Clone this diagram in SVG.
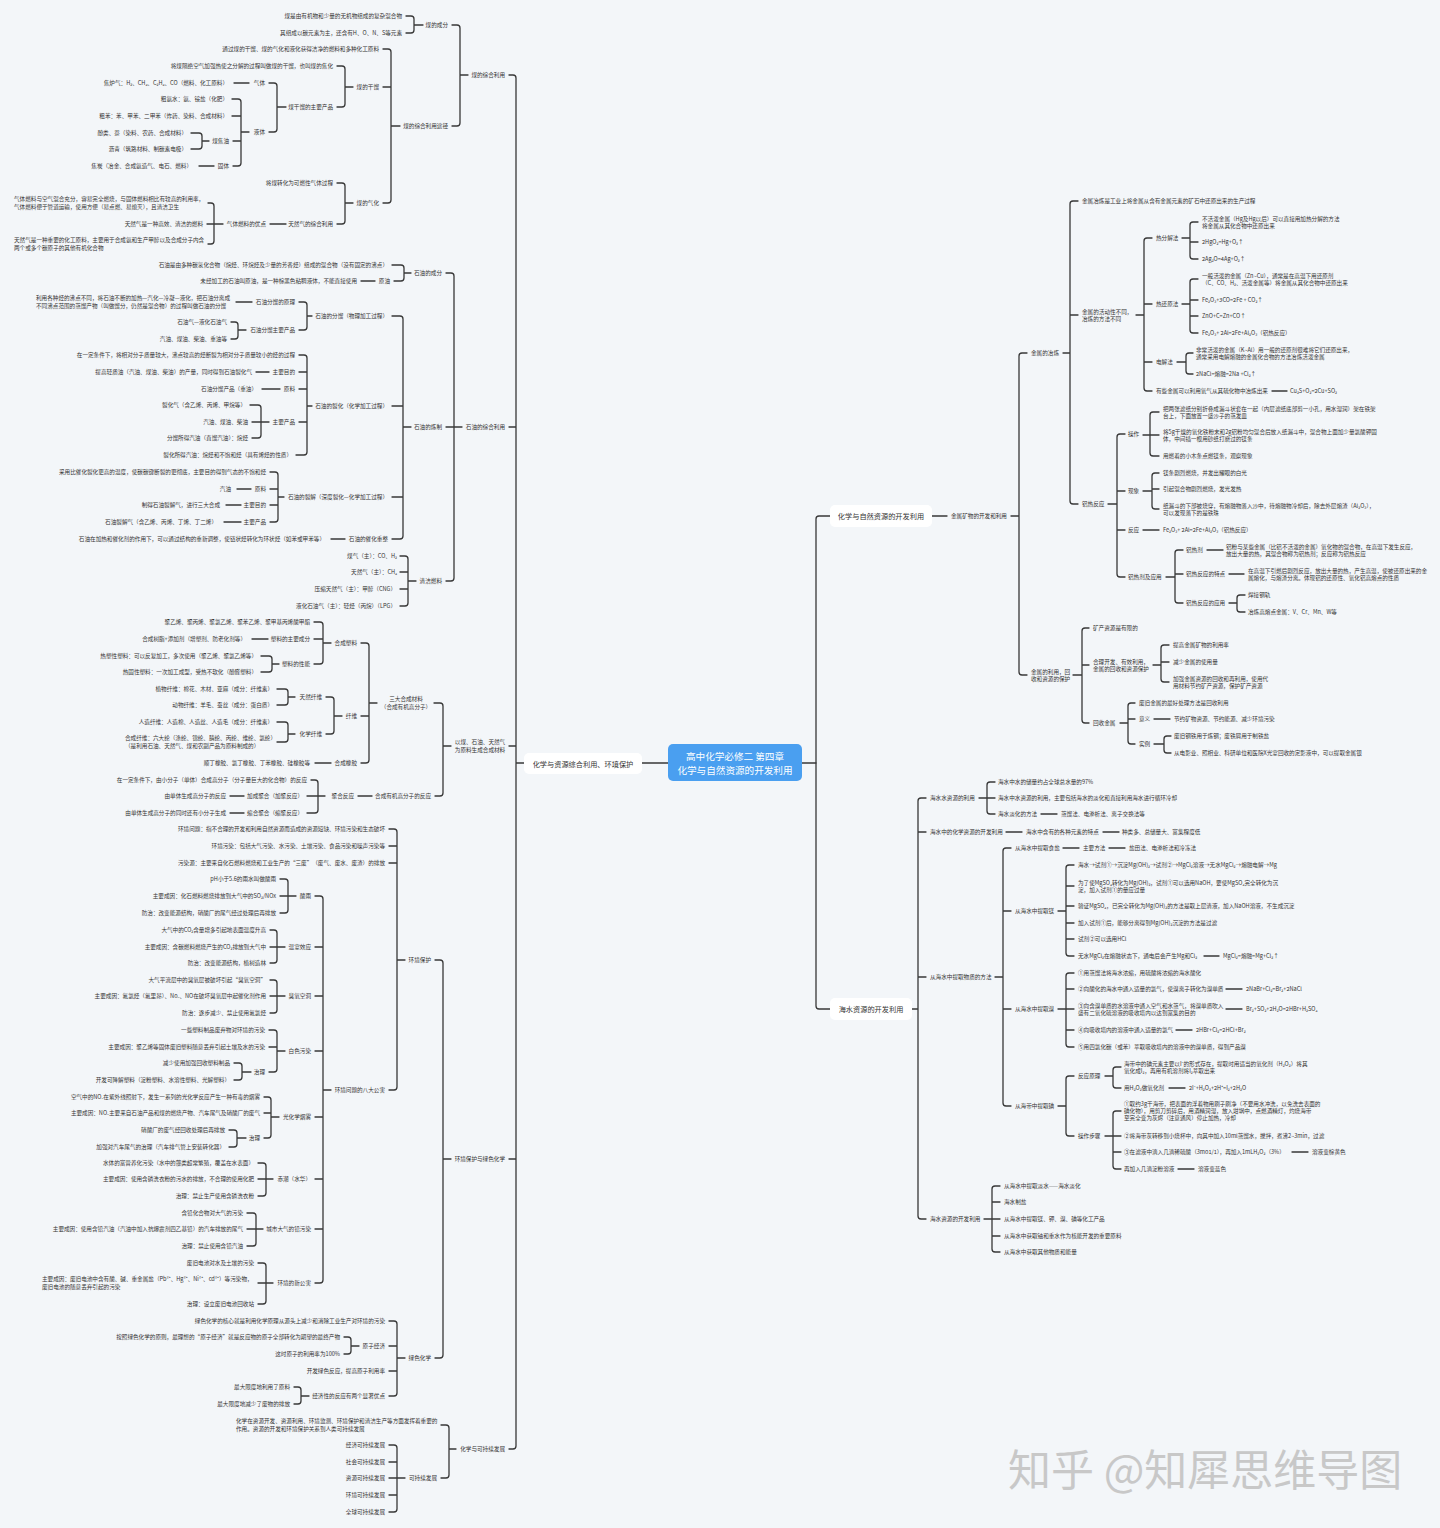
<svg xmlns="http://www.w3.org/2000/svg" width="1440" height="1528" viewBox="0 0 1440 1528">
<style>
text{font-family:"Noto Sans CJK SC","Noto Sans",sans-serif;font-size:5.6px;fill:#333;dominant-baseline:central}
.e{text-anchor:end}
.mid{text-anchor:middle}
.m{font-size:7.2px;text-anchor:middle}
.c{font-size:9.6px;fill:#fff;text-anchor:middle}
.box{fill:#fff}
.l{fill:none;stroke:#383838;stroke-width:1.3;stroke-linecap:round;stroke-linejoin:round}
.wm{font-size:43px;fill:#c8c8c8}
</style>
<rect width="1440" height="1528" fill="#f3f6f9"/>
<g id="connectors" class="l">
<path d="M642 763H668M802 763H816"/>
<path d="M509 75H513Q516 75 516 78V1446Q516 1449 513 1449H509M509 427H516M509 746H516M509 1159H516M516 763H524"/>
<path d="M452 25H457Q460 25 460 28V123Q460 126 457 126H452M460 75H468"/>
<path d="M406 16H411Q414 16 414 19V30Q414 33 411 33H406M414 25H423"/>
<path d="M383 49H388Q391 49 391 52V200Q391 203 388 203H383M383 87H391M391 126H400"/>
<path d="M337 66H342Q345 66 345 69V104Q345 107 342 107H337M345 87H353"/>
<path d="M269 83H274Q277 83 277 86V129Q277 132 274 132H269M277 107H286"/>
<path d="M234 83H249"/>
<path d="M232 99H238Q241 99 241 102V163Q241 166 238 166H233M232 116H241M233 141H241M241 132H249"/>
<path d="M191 133H199Q202 133 202 136V146Q202 149 199 149H191M202 141H209"/>
<path d="M199 166H214"/>
<path d="M337 183H342Q345 183 345 186V221Q345 224 342 224H337M345 203H353"/>
<path d="M270 224H286"/>
<path d="M208 203H211Q214 203 214 206V241Q214 244 211 244H208M207 224H223"/>
<path d="M446 273H451Q454 273 454 276V578Q454 581 451 581H446M446 427H462"/>
<path d="M392 265H401Q404 265 404 268V278Q404 281 401 281H394M404 273H411"/>
<path d="M361 281H375"/>
<path d="M392 316H400Q403 316 403 319V536Q403 539 400 539H392M392 406H403M392 497H403M403 427H411"/>
<path d="M299 302H304Q307 302 307 305V327Q307 330 304 330H299M307 316H312"/>
<path d="M236 302H252"/>
<path d="M231 322H235Q238 322 238 325V336Q238 339 235 339H231M238 330H246"/>
<path d="M299 355H304Q307 355 307 358V452Q307 455 304 455H296M299 372H307M299 389H307M299 422H307M307 406H312"/>
<path d="M256 372H269"/>
<path d="M262 389H280"/>
<path d="M250 405H258Q261 405 261 408V435Q261 438 258 438H252M252 422H269"/>
<path d="M270 472H275Q278 472 278 475V519Q278 522 275 522H270M270 489H278M270 505H278M278 497H284"/>
<path d="M237 489H251"/>
<path d="M226 505H241"/>
<path d="M224 522H241"/>
<path d="M331 539H345"/>
<path d="M400 556H405Q408 556 408 559V603Q408 606 405 606H400M400 572H408M400 589H408M408 581H416"/>
<path d="M434 703H440Q443 703 443 706V793Q443 796 440 796H435M443 746H451"/>
<path d="M361 643H366Q369 643 369 646V760Q369 763 366 763H361M361 716H369M369 703H377"/>
<path d="M314 622H320Q323 622 323 625V661Q323 664 320 664H314M314 639H323M323 643H331"/>
<path d="M252 639H268"/>
<path d="M261 656H269Q272 656 272 659V669Q272 672 269 672H261M272 664H279"/>
<path d="M326 697H331Q334 697 334 700V731Q334 734 331 734H326M334 716H342"/>
<path d="M277 689H285Q288 689 288 692V702Q288 705 285 705H277M288 697H295"/>
<path d="M277 722H285Q288 722 288 725V739Q288 742 285 742H277M288 734H295"/>
<path d="M315 763H331"/>
<path d="M358 796H372"/>
<path d="M311 780H315Q318 780 318 783V810Q318 813 315 813H307M307 796H325"/>
<path d="M230 796H244"/>
<path d="M230 813H244"/>
<path d="M435 960H440Q443 960 443 963V1355Q443 1358 440 1358H435M443 1159H451"/>
<path d="M389 829H394Q397 829 397 832V1087Q397 1090 394 1090H389M389 846H397M389 863H397M397 960H405"/>
<path d="M315 896H320Q323 896 323 899V1280Q323 1283 320 1283H315M315 947H323M315 996H323M315 1051H323M315 1117H323M315 1179H323M315 1229H323M323 1090H331"/>
<path d="M280 879H285Q288 879 288 882V910Q288 913 285 913H280M280 896H296"/>
<path d="M270 930H274Q277 930 277 933V960Q277 963 274 963H270M270 947H285"/>
<path d="M270 980H274Q277 980 277 983V1010Q277 1013 274 1013H270M270 996H285"/>
<path d="M269 1030H274Q277 1030 277 1033V1069Q277 1072 274 1072H269M269 1047H277M277 1051H285"/>
<path d="M234 1063H239Q242 1063 242 1066V1077Q242 1080 239 1080H234M242 1072H251"/>
<path d="M264 1097H268Q271 1097 271 1100V1135Q271 1138 268 1138H264M264 1113H271M271 1117H279"/>
<path d="M229 1130H234Q237 1130 237 1133V1144Q237 1147 234 1147H229M237 1138H246"/>
<path d="M258 1163H263Q266 1163 266 1166V1193Q266 1196 263 1196H258M258 1179H273"/>
<path d="M247 1213H253Q256 1213 256 1216V1243Q256 1246 253 1246H247M247 1229H263"/>
<path d="M258 1263H263Q266 1263 266 1266V1301Q266 1304 263 1304H258M258 1283H273"/>
<path d="M389 1321H394Q397 1321 397 1324V1393Q397 1396 394 1396H389M389 1346H397M389 1371H397M397 1358H405"/>
<path d="M344 1337H348Q351 1337 351 1340V1351Q351 1354 348 1354H344M351 1346H359"/>
<path d="M294 1387H298Q301 1387 301 1390V1401Q301 1404 298 1404H294M301 1396H309"/>
<path d="M441 1425H446Q449 1425 449 1428V1475Q449 1478 446 1478H441M449 1449H456"/>
<path d="M389 1445H394Q397 1445 397 1448V1509Q397 1512 394 1512H389M389 1462H397M389 1478H405M389 1495H397"/>
<path d="M830 516H819Q816 516 816 519V1006Q816 1009 819 1009H830"/>
<path d="M932 516H947"/>
<path d="M1027 353H1022Q1019 353 1019 356V672Q1019 675 1022 675H1027M1011 516H1019"/>
<path d="M1078 201H1073Q1070 201 1070 204V501Q1070 504 1073 504H1078M1070 315H1078M1063 353H1070"/>
<path d="M1152 238H1147Q1144 238 1144 241V388Q1144 391 1147 391H1152M1144 304H1152M1144 362H1152M1136 315H1144"/>
<path d="M1198 222H1193Q1190 222 1190 225V256Q1190 259 1193 259H1198M1190 242H1198M1182 238H1190"/>
<path d="M1198 279H1193Q1190 279 1190 282V330Q1190 333 1193 333H1198M1190 300H1198M1190 316H1198M1182 304H1190"/>
<path d="M1193 353H1189Q1186 353 1186 356V371Q1186 374 1189 374H1193M1177 362H1186"/>
<path d="M1272 391H1287"/>
<path d="M1125 434H1120Q1117 434 1117 437V574Q1117 577 1120 577H1125M1117 491H1125M1117 530H1125M1108 504H1117"/>
<path d="M1159 412H1153Q1150 412 1150 415V453Q1150 456 1153 456H1159M1143 435H1159"/>
<path d="M1159 473H1155Q1152 473 1152 476V506Q1152 509 1155 509H1159M1152 489H1159M1143 491H1152"/>
<path d="M1143 530H1159"/>
<path d="M1183 550H1178Q1175 550 1175 553V600Q1175 603 1178 603H1183M1175 574H1183M1166 577H1175"/>
<path d="M1207 550H1223"/>
<path d="M1229 574H1244"/>
<path d="M1245 595H1240Q1237 595 1237 598V609Q1237 612 1240 612H1245M1229 603H1237"/>
<path d="M1089 628H1085Q1082 628 1082 631V720Q1082 723 1085 723H1089M1082 665H1089M1073 675H1082"/>
<path d="M1169 645H1164Q1161 645 1161 648V679Q1161 682 1164 682H1169M1161 662H1169M1153 665H1161"/>
<path d="M1135 703H1131Q1128 703 1128 706V741Q1128 744 1131 744H1135M1128 719H1135M1120 723H1128"/>
<path d="M1154 719H1170"/>
<path d="M1171 736H1167Q1164 736 1164 739V750Q1164 753 1167 753H1171M1154 744H1164"/>
<path d="M926 798H921Q918 798 918 801V1216Q918 1219 921 1219H926M918 832H926M918 977H926M912 1009H918"/>
<path d="M995 782H990Q987 782 987 785V811Q987 814 990 814H995M979 798H995"/>
<path d="M1041 814H1057"/>
<path d="M1006 832H1022M1103 832H1119"/>
<path d="M1011 848H1006Q1003 848 1003 851V1103Q1003 1106 1006 1106H1011M1003 911H1011M1003 1009H1011M995 977H1003"/>
<path d="M1063 848H1079M1109 848H1125"/>
<path d="M1074 865H1069Q1066 865 1066 868V953Q1066 956 1069 956H1074M1066 886H1074M1066 906H1074M1066 923H1074M1066 939H1074M1058 911H1066"/>
<path d="M1204 956H1219"/>
<path d="M1074 973H1069Q1066 973 1066 976V1044Q1066 1047 1069 1047H1074M1066 989H1074M1058 1009H1074M1066 1030H1074"/>
<path d="M1226 989H1242M1226 1009H1242M1176 1030H1192"/>
<path d="M1074 1076H1069Q1066 1076 1066 1079V1133Q1066 1136 1069 1136H1074M1058 1106H1066"/>
<path d="M1121 1067H1116Q1113 1067 1113 1070V1085Q1113 1088 1116 1088H1121M1105 1076H1113"/>
<path d="M1169 1088H1185"/>
<path d="M1121 1111H1116Q1113 1111 1113 1114V1166Q1113 1169 1116 1169H1121M1105 1136H1121M1113 1152H1121"/>
<path d="M1292 1152H1308M1178 1169H1194"/>
<path d="M1000 1186H995Q992 1186 992 1189V1249Q992 1252 995 1252H1000M992 1202H1000M984 1219H1000M992 1236H1000"/>
</g>
<g id="center"><rect x="668" y="744" width="134" height="37" rx="5" fill="#4a9ff0"/><text class="c" x="735" y="756">高中化学必修二 第四章</text><text class="c" x="735" y="770">化学与自然资源的开发利用</text></g>
<g id="b-left"><rect class="box" x="524" y="753" width="118" height="21" rx="5"/><text class="m" x="583" y="763.5">化学与资源综合利用、环境保护</text></g>
<g id="b-right1"><rect class="box" x="830" y="505" width="102" height="22" rx="5"/><text class="m" x="881" y="516">化学与自然资源的开发利用</text></g>
<g id="b-right2"><rect class="box" x="830" y="998" width="82" height="22" rx="5"/><text class="m" x="871" y="1009">海水资源的开发利用</text></g>
<g id="coal">
<g id="c1"><text class="e" x="505" y="75">煤的综合利用</text></g>
<g id="c2"><text class="e" x="448" y="25">煤的成分</text></g>
<g id="c3"><text class="e" x="402" y="16">煤是由有机物和少量的无机物组成的复杂混合物</text></g>
<g id="c4"><text class="e" x="402" y="33">其组成以碳元素为主，还含有H、O、N、S等元素</text></g>
<g id="c5"><text class="e" x="448" y="126">煤的综合利用途径</text></g>
<g id="c6"><text class="e" x="379" y="49">通过煤的干馏、煤的气化和液化获得洁净的燃料和多种化工原料</text></g>
<g id="c7"><text class="e" x="379" y="87">煤的干馏</text></g>
<g id="c8"><text class="e" x="333" y="66">将煤隔绝空气加强热使之分解的过程叫做煤的干馏，也叫煤的焦化</text></g>
<g id="c9"><text class="e" x="333" y="107">煤干馏的主要产品</text></g>
<g id="c10"><text class="e" x="265" y="83">气体</text></g>
<g id="c11"><text class="e" x="228" y="83">焦炉气：H₂、CH₄、C₂H₄、CO（燃料、化工原料）</text></g>
<g id="c12"><text class="e" x="265" y="132">液体</text></g>
<g id="c13"><text class="e" x="228" y="99">粗氨水：氨、铵盐（化肥）</text></g>
<g id="c14"><text class="e" x="228" y="116">粗苯：苯、甲苯、二甲苯（炸药、染料、合成材料）</text></g>
<g id="c15"><text class="e" x="229" y="141">煤焦油</text></g>
<g id="c16"><text class="e" x="187" y="133">酚类、萘（染料、农药、合成材料）</text></g>
<g id="c17"><text class="e" x="187" y="149">沥青（筑路材料、制碳素电极）</text></g>
<g id="c18"><text class="e" x="229" y="166">固体</text></g>
<g id="c19"><text class="e" x="192" y="166">焦炭（冶金、合成氨造气、电石、燃料）</text></g>
<g id="c20"><text class="e" x="379" y="203">煤的气化</text></g>
<g id="c21"><text class="e" x="333" y="183">将煤转化为可燃性气体过程</text></g>
<g id="c22"><text class="e" x="333" y="224">天然气的综合利用</text></g>
<g id="c23"><text class="e" x="266" y="224">气体燃料的优点</text></g>
<g id="c24"><text x="14" y="199">气体燃料与空气混合充分，容易完全燃烧，与固体燃料相比有较高的利用率，<tspan x="14" y="207">气体燃料便于管道运输，使用方便（易点燃、易熄灭），且清洁卫生</tspan></text></g>
<g id="c25"><text class="e" x="203" y="224">天然气是一种高效、清洁的燃料</text></g>
<g id="c26"><text x="14" y="240">天然气是一种重要的化工原料，主要用于合成氨和生产甲醇以及合成分子内含<tspan x="14" y="248">两个或多个碳原子的其他有机化合物</tspan></text></g>
</g>
<g id="oil">
<g id="p1"><text class="e" x="505" y="427">石油的综合利用</text></g>
<g id="p2"><text class="e" x="442" y="273">石油的成分</text></g>
<g id="p3"><text class="e" x="388" y="265">石油是由多种碳氢化合物（烷烃、环烷烃及少量的芳香烃）组成的混合物（没有固定的沸点）</text></g>
<g id="p4"><text class="e" x="390" y="281">原油</text></g>
<g id="p5"><text class="e" x="357" y="281">未经加工的石油叫原油，是一种棕黑色粘稠液体，不能直接使用</text></g>
<g id="p6"><text class="e" x="442" y="427">石油的炼制</text></g>
<g id="p7"><text class="e" x="388" y="316">石油的分馏（物理加工过程）</text></g>
<g id="p8"><text class="e" x="295" y="302">石油分馏的原理</text></g>
<g id="p9"><text x="36" y="298">利用各种烃的沸点不同，将石油不断的加热—汽化—冷凝—液化，把石油分离成<tspan x="36" y="306">不同沸点范围的蒸馏产物（叫做馏分，仍然是混合物）的过程叫做石油的分馏</tspan></text></g>
<g id="p10"><text class="e" x="295" y="330">石油分馏主要产品</text></g>
<g id="p11"><text class="e" x="227" y="322">石油气—液化石油气</text></g>
<g id="p12"><text class="e" x="227" y="339">汽油、煤油、柴油、重油等</text></g>
<g id="p13"><text class="e" x="388" y="406">石油的裂化（化学加工过程）</text></g>
<g id="p14"><text class="e" x="295" y="355">在一定条件下，将相对分子质量较大，沸点较高的烃断裂为相对分子质量较小的烃的过程</text></g>
<g id="p15"><text class="e" x="295" y="372">主要目的</text></g>
<g id="p16"><text class="e" x="252" y="372">提高轻质油（汽油、煤油、柴油）的产量，同时得到石油裂化气</text></g>
<g id="p17"><text class="e" x="295" y="389">原料</text></g>
<g id="p18"><text class="e" x="257" y="389">石油分馏产品（重油）</text></g>
<g id="p19"><text class="e" x="295" y="422">主要产品</text></g>
<g id="p20"><text class="e" x="246" y="405">裂化气（含乙烯、丙烯、甲烷等）</text></g>
<g id="p21"><text class="e" x="248" y="422">汽油、煤油、柴油</text></g>
<g id="p22"><text class="e" x="248" y="438">分馏所得汽油（直馏汽油）：烷烃</text></g>
<g id="p23"><text class="e" x="292" y="455">裂化所得汽油：烷烃和不饱和烃（具有烯烃的性质）</text></g>
<g id="p24"><text class="e" x="388" y="497">石油的裂解（深度裂化—化学加工过程）</text></g>
<g id="p25"><text class="e" x="266" y="472">采用比催化裂化更高的温度，使碳碳键断裂的更彻底，主要目的得到气态的不饱和烃</text></g>
<g id="p26"><text class="e" x="266" y="489">原料</text></g>
<g id="p27"><text class="e" x="231" y="489">汽油</text></g>
<g id="p28"><text class="e" x="266" y="505">主要目的</text></g>
<g id="p29"><text class="e" x="220" y="505">制得石油裂解气，进行三大合成</text></g>
<g id="p30"><text class="e" x="266" y="522">主要产品</text></g>
<g id="p31"><text class="e" x="217" y="522">石油裂解气（含乙烯、丙烯、丁烯、丁二烯）</text></g>
<g id="p32"><text class="e" x="388" y="539">石油的催化重整</text></g>
<g id="p33"><text class="e" x="325" y="539">石油在加热和催化剂的作用下，可以通过结构的重新调整，使链状烃转化为环状烃（如苯或甲苯等）</text></g>
<g id="p34"><text class="e" x="442" y="581">清洁燃料</text></g>
<g id="p35"><text class="e" x="397" y="556">煤气（主）：CO、H₂</text></g>
<g id="p36"><text class="e" x="397" y="572">天然气（主）：CH₄</text></g>
<g id="p37"><text class="e" x="396" y="589">压缩天然气（主）：甲醇（CNG）</text></g>
<g id="p38"><text class="e" x="396" y="606">液化石油气（主）：轻烃（丙烷）（LPG）</text></g>
</g>
<g id="materials">
<g id="s1"><text class="mid" x="480" y="742">以煤、石油、天然气<tspan x="480" y="750">为原料生成合成材料</tspan></text></g>
<g id="s2"><text class="mid" x="406" y="699">三大合成材料<tspan x="406" y="707">（合成有机高分子）</tspan></text></g>
<g id="s3"><text class="e" x="357" y="643">合成塑料</text></g>
<g id="s4"><text class="e" x="310" y="622">聚乙烯、聚丙烯、聚氯乙烯、聚苯乙烯、聚甲基丙烯酸甲酯</text></g>
<g id="s5"><text class="e" x="310" y="639">塑料的主要成分</text></g>
<g id="s6"><text class="e" x="246" y="639">合成树脂+添加剂（增塑剂、防老化剂等）</text></g>
<g id="s7"><text class="e" x="310" y="664">塑料的性能</text></g>
<g id="s8"><text class="e" x="257" y="656">热塑性塑料：可以反复加工，多次使用（聚乙烯、聚氯乙烯等）</text></g>
<g id="s9"><text class="e" x="257" y="672">热固性塑料：一次加工成型，受热不软化（酚醛塑料）</text></g>
<g id="s10"><text class="e" x="357" y="716">纤维</text></g>
<g id="s11"><text class="e" x="322" y="697">天然纤维</text></g>
<g id="s12"><text class="e" x="273" y="689">植物纤维：棉花、木材、亚麻（成分：纤维素）</text></g>
<g id="s13"><text class="e" x="273" y="705">动物纤维：羊毛、蚕丝（成分：蛋白质）</text></g>
<g id="s14"><text class="e" x="322" y="734">化学纤维</text></g>
<g id="s15"><text class="e" x="273" y="722">人造纤维：人造棉、人造丝、人造毛（成分：纤维素）</text></g>
<g id="s16"><text x="125" y="738">合成纤维：六大纶（涤纶、锦纶、腈纶、丙纶、维纶、氯纶）<tspan x="125" y="746">（是利用石油、天然气、煤和农副产品为原料制成的）</tspan></text></g>
<g id="s17"><text class="e" x="357" y="763">合成橡胶</text></g>
<g id="s18"><text class="e" x="310" y="763">顺丁橡胶、氯丁橡胶、丁苯橡胶、硅橡胶等</text></g>
<g id="s19"><text class="e" x="431" y="796">合成有机高分子的反应</text></g>
<g id="s20"><text class="e" x="354" y="796">聚合反应</text></g>
<g id="s21"><text class="e" x="307" y="780">在一定条件下，由小分子（单体）合成高分子（分子量巨大的化合物）的反应</text></g>
<g id="s22"><text class="e" x="303" y="796">加成聚合（加聚反应）</text></g>
<g id="s23"><text class="e" x="226" y="796">由单体生成高分子的反应</text></g>
<g id="s24"><text class="e" x="303" y="813">缩合聚合（缩聚反应）</text></g>
<g id="s25"><text class="e" x="226" y="813">由单体生成高分子的同时还有小分子生成</text></g>
</g>
<g id="environment">
<g id="v1"><text class="e" x="505" y="1159">环境保护与绿色化学</text></g>
<g id="v2"><text class="e" x="431" y="960">环境保护</text></g>
<g id="v3"><text class="e" x="385" y="829">环境问题：指不合理的开发和利用自然资源而造成的资源短缺、环境污染和生态破坏</text></g>
<g id="v4"><text class="e" x="385" y="846">环境污染：包括大气污染、水污染、土壤污染、食品污染和噪声污染等</text></g>
<g id="v5"><text class="e" x="385" y="863">污染源：主要来自化石燃料燃烧和工业生产的“三废”（废气、废水、废渣）的排放</text></g>
<g id="v6"><text class="e" x="385" y="1090">环境问题的八大公害</text></g>
<g id="v7"><text class="e" x="311" y="896">酸雨</text></g>
<g id="v8"><text class="e" x="276" y="879">pH小于5.6的雨水叫做酸雨</text></g>
<g id="v9"><text class="e" x="276" y="896">主要成因：化石燃料燃烧排放到大气中的SO₂/NOx</text></g>
<g id="v10"><text class="e" x="276" y="913">防治：改变能源结构，硝酸厂的尾气经过处理后再排放</text></g>
<g id="v11"><text class="e" x="311" y="947">温室效应</text></g>
<g id="v12"><text class="e" x="266" y="930">大气中的CO₂含量增多引起地表面温度升高</text></g>
<g id="v13"><text class="e" x="266" y="947">主要成因：含碳燃料燃烧产生的CO₂排放到大气中</text></g>
<g id="v14"><text class="e" x="266" y="963">防治：改变能源结构，植树造林</text></g>
<g id="v15"><text class="e" x="311" y="996">臭氧空洞</text></g>
<g id="v16"><text class="e" x="266" y="980">大气平流层中的臭氧层被破坏引起“臭氧空洞”</text></g>
<g id="v17"><text class="e" x="266" y="996">主要成因：氟氯烃（氟里昂）、Noₓ、NO在破坏臭氧层中起催化剂作用</text></g>
<g id="v18"><text class="e" x="266" y="1013">防治：逐步减少、禁止使用氟氯烃</text></g>
<g id="v19"><text class="e" x="311" y="1051">白色污染</text></g>
<g id="v20"><text class="e" x="265" y="1030">一些塑料制品废弃物对环境的污染</text></g>
<g id="v21"><text class="e" x="265" y="1047">主要成因：聚乙烯等固体废旧塑料随意丢弃引起土壤及水的污染</text></g>
<g id="v22"><text class="e" x="265" y="1072">治理</text></g>
<g id="v23"><text class="e" x="230" y="1063">减少使用加强回收塑料制品</text></g>
<g id="v24"><text class="e" x="230" y="1080">开发可降解塑料（淀粉塑料、水溶性塑料、光解塑料）</text></g>
<g id="v25"><text class="e" x="311" y="1117">光化学烟雾</text></g>
<g id="v26"><text class="e" x="260" y="1097">空气中的NOₓ在紫外线照射下，发生一系列的光化学反应产生一种有毒的烟雾</text></g>
<g id="v27"><text class="e" x="260" y="1113">主要成因：NOₓ主要来自石油产品和煤的燃烧产物、汽车尾气及硝酸厂的废气</text></g>
<g id="v28"><text class="e" x="260" y="1138">治理</text></g>
<g id="v29"><text class="e" x="225" y="1130">硝酸厂的废气经回收处理后再排放</text></g>
<g id="v30"><text class="e" x="225" y="1147">加强对汽车尾气的治理（汽车排气管上安装转化器）</text></g>
<g id="v31"><text class="e" x="311" y="1179">赤潮（水华）</text></g>
<g id="v32"><text class="e" x="254" y="1163">水体的富营养化污染（水中的藻类超常繁殖，覆盖在水表面）</text></g>
<g id="v33"><text class="e" x="254" y="1179">主要成因：使用含磷洗衣粉的污水的排放，不合理的使用化肥</text></g>
<g id="v34"><text class="e" x="254" y="1196">治理：禁止生产使用含磷洗衣粉</text></g>
<g id="v35"><text class="e" x="311" y="1229">城市大气的铅污染</text></g>
<g id="v36"><text class="e" x="243" y="1213">含铅化合物对大气的污染</text></g>
<g id="v37"><text class="e" x="243" y="1229">主要成因：使用含铅汽油（汽油中加入抗爆震剂四乙基铅）的汽车排放的尾气</text></g>
<g id="v38"><text class="e" x="243" y="1246">治理：禁止使用含铅汽油</text></g>
<g id="v39"><text class="e" x="311" y="1283">环境的新公害</text></g>
<g id="v40"><text class="e" x="254" y="1263">废旧电池对水及土壤的污染</text></g>
<g id="v41"><text x="42" y="1279">主要成因：废旧电池中含有酸、碱、重金属盐（Pb²⁺、Hg²⁺、Ni²⁺、cd²⁺）等污染物，<tspan x="42" y="1287">废旧电池的随意丢弃引起的污染</tspan></text></g>
<g id="v42"><text class="e" x="254" y="1304">治理：设立废旧电池回收站</text></g>
<g id="v43"><text class="e" x="431" y="1358">绿色化学</text></g>
<g id="v44"><text class="e" x="385" y="1321">绿色化学的核心就是利用化学原理从源头上减少和消除工业生产对环境的污染</text></g>
<g id="v45"><text class="e" x="385" y="1346">原子经济</text></g>
<g id="v46"><text class="e" x="340" y="1337">按照绿色化学的原则，最理想的“原子经济”就是反应物的原子全部转化为期望的最终产物</text></g>
<g id="v47"><text class="e" x="340" y="1354">这时原子的利用率为100%</text></g>
<g id="v48"><text class="e" x="385" y="1371">开发绿色反应，提高原子利用率</text></g>
<g id="v49"><text class="e" x="385" y="1396">经济性的反应有两个显著优点</text></g>
<g id="v50"><text class="e" x="290" y="1387">最大限度地利用了原料</text></g>
<g id="v51"><text class="e" x="290" y="1404">最大限度地减少了废物的排放</text></g>
</g>
<g id="sustain">
<g id="u1"><text class="e" x="505" y="1449">化学与可持续发展</text></g>
<g id="u2"><text x="236" y="1421">化学在资源开发、资源利用、环境监测、环境保护和清洁生产等方面发挥着重要的<tspan x="236" y="1429">作用。资源的开发和环境保护关系到人类可持续发展</tspan></text></g>
<g id="u3"><text class="e" x="437" y="1478">可持续发展</text></g>
<g id="u4"><text class="e" x="385" y="1445">经济可持续发展</text></g>
<g id="u5"><text class="e" x="385" y="1462">社会可持续发展</text></g>
<g id="u6"><text class="e" x="385" y="1478">资源可持续发展</text></g>
<g id="u7"><text class="e" x="385" y="1495">环境可持续发展</text></g>
<g id="u8"><text class="e" x="385" y="1512">全球可持续发展</text></g>
</g>
<g id="metals">
<g id="m1"><text x="951" y="516">金属矿物的开发和利用</text></g>
<g id="m2"><text x="1031" y="353">金属的冶炼</text></g>
<g id="m3"><text x="1082" y="201">金属冶炼是工业上将金属从含有金属元素的矿石中还原出来的生产过程</text></g>
<g id="m4"><text x="1082" y="311.5">金属的活动性不同，<tspan x="1082" y="318.5">冶炼的方法不同</tspan></text></g>
<g id="m5"><text x="1156" y="238">热分解法</text></g>
<g id="m6"><text x="1202" y="218.5">不活泼金属（Hg及Hg以后）可以直接用加热分解的方法<tspan x="1202" y="225.5">将金属从其化合物中还原出来</tspan></text></g>
<g id="m7"><text x="1202" y="242">2HgO₂=Hg+O₂↑</text></g>
<g id="m8"><text x="1202" y="259">2Ag₂O=4Ag+O₂↑</text></g>
<g id="m9"><text x="1156" y="304">热还原法</text></g>
<g id="m10"><text x="1202" y="275.5">一般活泼的金属（Zn~Cu），通常是在高温下用还原剂<tspan x="1202" y="282.5">（C、CO、H₂、活泼金属等）将金属从其化合物中还原出来</tspan></text></g>
<g id="m11"><text x="1202" y="300">Fe₂O₃+3CO=2Fe + CO₂↑</text></g>
<g id="m12"><text x="1202" y="316">ZnO+C=Zn+CO↑</text></g>
<g id="m13"><text x="1202" y="333">Fe₂O₃+ 2Al=2Fe+Al₂O₃（铝热反应）</text></g>
<g id="m14"><text x="1156" y="362">电解法</text></g>
<g id="m15"><text x="1196" y="349.5">非常活泼的金属（K~Al）用一般的还原剂很难将它们还原出来，<tspan x="1196" y="356.5">通常采用电解熔融的金属化合物的方法冶炼活泼金属</tspan></text></g>
<g id="m16"><text x="1196" y="374">2NaCl=熔融=2Na +Cl₂↑</text></g>
<g id="m17"><text x="1156" y="391">有些金属可以利用氧气从其硫化物中冶炼出来</text></g>
<g id="m18"><text x="1290" y="391">Cu₂S+O₂=2Cu+SO₂</text></g>
<g id="m19"><text x="1082" y="504">铝热反应</text></g>
<g id="m20"><text x="1128" y="434">操作</text></g>
<g id="m21"><text x="1163" y="408.5">把两张滤纸分别折叠成漏斗状套在一起（内层滤纸底部剪一小孔，用水湿润）架在铁架<tspan x="1163" y="415.5">台上，下面放置一盛沙子的蒸发皿</tspan></text></g>
<g id="m22"><text x="1163" y="431.5">将5g干燥的氧化铁粉末和2g铝粉均匀混合后放入纸漏斗中，混合物上面加少量氯酸钾固<tspan x="1163" y="438.5">体，中间插一根用砂纸打磨过的镁条</tspan></text></g>
<g id="m23"><text x="1163" y="456">用燃着的小木条点燃镁条，观察现象</text></g>
<g id="m24"><text x="1128" y="491">现象</text></g>
<g id="m25"><text x="1163" y="473">镁条剧烈燃烧，并发出耀眼的白光</text></g>
<g id="m26"><text x="1163" y="489">引起混合物剧烈燃烧，发光发热</text></g>
<g id="m27"><text x="1163" y="505.5">纸漏斗的下部被烧穿，有熔融物落入沙中，待熔融物冷却后，除去外层熔渣（Al₂O₃），<tspan x="1163" y="512.5">可以发现落下的是铁珠</tspan></text></g>
<g id="m28"><text x="1128" y="530">反应</text></g>
<g id="m29"><text x="1163" y="530">Fe₂O₃+ 2Al=2Fe+Al₂O₃（铝热反应）</text></g>
<g id="m30"><text x="1128" y="577">铝热剂及应用</text></g>
<g id="m31"><text x="1186" y="550">铝热剂</text></g>
<g id="m32"><text x="1226" y="546.5">铝粉与某些金属（比铝不活泼的金属）氧化物的混合物，在高温下发生反应，<tspan x="1226" y="553.5">放出大量的热，其混合物称为铝热剂；反应称为铝热反应</tspan></text></g>
<g id="m33"><text x="1186" y="574">铝热反应的特点</text></g>
<g id="m34"><text x="1248" y="570.5">在高温下引燃后剧烈反应，放出大量的热，产生高温，使被还原出来的金<tspan x="1248" y="577.5">属熔化，与熔渣分离。体现铝的还原性、氧化铝高熔点的性质</tspan></text></g>
<g id="m35"><text x="1186" y="603">铝热反应的应用</text></g>
<g id="m36"><text x="1248" y="595">焊接钢轨</text></g>
<g id="m37"><text x="1248" y="612">冶炼高熔点金属：V、Cr、Mn、W等</text></g>
<g id="m38"><text x="1031" y="671.5">金属的利用，回<tspan x="1031" y="678.5">收和资源的保护</tspan></text></g>
<g id="m39"><text x="1093" y="628">矿产资源是有限的</text></g>
<g id="m40"><text x="1093" y="661.5">合理开发、有效利用，<tspan x="1093" y="668.5">金属的回收和资源保护</tspan></text></g>
<g id="m41"><text x="1173" y="645">提高金属矿物的利用率</text></g>
<g id="m42"><text x="1173" y="662">减少金属的使用量</text></g>
<g id="m43"><text x="1173" y="678.5">加强金属资源的回收和再利用，使用代<tspan x="1173" y="685.5">用材料节约矿产资源，保护矿产资源</tspan></text></g>
<g id="m44"><text x="1093" y="723">回收金属</text></g>
<g id="m45"><text x="1139" y="703">废旧金属的最好处理方法是回收利用</text></g>
<g id="m46"><text x="1139" y="719">意义</text></g>
<g id="m47"><text x="1174" y="719">节约矿物资源、节约能源、减少环境污染</text></g>
<g id="m48"><text x="1139" y="744">实例</text></g>
<g id="m49"><text x="1174" y="736">废旧钢铁用于炼钢；废铁屑用于制铁盐</text></g>
<g id="m50"><text x="1174" y="753">从电影业、照相业、科研单位和医院X光室回收的定影液中，可以提取金属银</text></g>
</g>
<g id="sea">
<g id="w1"><text x="930" y="798">海水水资源的利用</text></g>
<g id="w2"><text x="998" y="782">海水中水的储量约占全球总水量的97%</text></g>
<g id="w3"><text x="998" y="798">海水中水资源的利用，主要包括海水的淡化和直接利用海水进行循环冷却</text></g>
<g id="w4"><text x="998" y="814">海水淡化的方法</text></g>
<g id="w5"><text x="1061" y="814">蒸馏法、电渗析法、离子交换法等</text></g>
<g id="w6"><text x="930" y="832">海水中的化学资源的开发利用</text></g>
<g id="w7"><text x="1026" y="832">海水中含有的各种元素的特点</text></g>
<g id="w8"><text x="1122" y="832">种类多、总储量大、富集程度低</text></g>
<g id="w9"><text x="930" y="977">从海水中提取物质的方法</text></g>
<g id="w10"><text x="1015" y="848">从海水中提取食盐</text></g>
<g id="w11"><text x="1083" y="848">主要方法</text></g>
<g id="w12"><text x="1129" y="848">盐田法、电渗析法和冷冻法</text></g>
<g id="w13"><text x="1015" y="911">从海水中提取镁</text></g>
<g id="w14"><text x="1078" y="865">海水→试剂①→沉淀Mg(OH)₂→试剂②→MgCl₂溶液→无水MgCl₂→熔融电解→Mg</text></g>
<g id="w15"><text x="1078" y="882.5">为了使MgSO₄转化为Mg(OH)₂，试剂①可以选用NaOH，要使MgSO₄完全转化为沉<tspan x="1078" y="889.5">淀，加入试剂①的量应过量</tspan></text></g>
<g id="w16"><text x="1078" y="906">验证MgSO₄，已完全转化为Mg(OH)₂的方法是取上层清液，加入NaOH溶液，不生成沉淀</text></g>
<g id="w17"><text x="1078" y="923">加入试剂①后，能够分离得到Mg(OH)₂沉淀的方法是过滤</text></g>
<g id="w18"><text x="1078" y="939">试剂②可以选用HCl</text></g>
<g id="w19"><text x="1078" y="956">无水MgCl₂在熔融状态下，通电后会产生Mg和Cl₂</text></g>
<g id="w20"><text x="1223" y="956">MgCl₂=熔融=Mg+Cl₂↑</text></g>
<g id="w21"><text x="1015" y="1009">从海水中提取溴</text></g>
<g id="w22"><text x="1078" y="973">①用蒸馏法将海水浓缩，用硫酸将浓缩的海水酸化</text></g>
<g id="w23"><text x="1078" y="989">②向酸化的海水中通入适量的氯气，使溴离子转化为溴单质</text></g>
<g id="w24"><text x="1246" y="989">2NaBr+Cl₂=Br₂+2NaCl</text></g>
<g id="w25"><text x="1078" y="1005.5">③向含溴单质的水溶液中通入空气和水蒸气，将溴单质吹入<tspan x="1078" y="1012.5">盛有二氧化硫溶液的吸收塔内以达到富集的目的</tspan></text></g>
<g id="w26"><text x="1246" y="1009">Br₂+SO₂+2H₂O=2HBr+H₂SO₄</text></g>
<g id="w27"><text x="1078" y="1030">④向吸收塔内的溶液中通入适量的氯气</text></g>
<g id="w28"><text x="1196" y="1030">2HBr+Cl₂=2HCl+Br₂</text></g>
<g id="w29"><text x="1078" y="1047">⑤用四氯化碳（或苯）萃取吸收塔内的溶液中的溴单质，得到产品溴</text></g>
<g id="w30"><text x="1015" y="1106">从海带中提取碘</text></g>
<g id="w31"><text x="1078" y="1076">反应原理</text></g>
<g id="w32"><text x="1124" y="1063.5">海带中的碘元素主要以I⁻的形式存在，提取时用适当的氧化剂（H₂O₂）将其<tspan x="1124" y="1070.5">氧化成I₂，再用有机溶剂将I₂萃取出来</tspan></text></g>
<g id="w33"><text x="1124" y="1088">用H₂O₂做氧化剂</text></g>
<g id="w34"><text x="1189" y="1088">2I⁻+H₂O₂+2H⁺=I₂+2H₂O</text></g>
<g id="w35"><text x="1078" y="1136">操作步骤</text></g>
<g id="w36"><text x="1124" y="1104">①取约3g干海带，把表面的浮着物用刷子刷净（不要用水冲洗，以免洗去表面的<tspan x="1124" y="1111">碘化物），用剪刀剪碎后，用酒精润湿，放入坩埚中，点燃酒精灯，灼烧海带</tspan><tspan x="1124" y="1118">至完全变为灰烬（注意通风）停止加热，冷却</tspan></text></g>
<g id="w37"><text x="1124" y="1136">②将海带灰转移到小烧杯中，向其中加入10ml蒸馏水，搅拌，煮沸2~3min，过滤</text></g>
<g id="w38"><text x="1124" y="1152">③在滤液中滴入几滴稀硫酸（3mo1/1），再加入1mLH₂O₂（3%）</text></g>
<g id="w39"><text x="1312" y="1152">溶液变棕黄色</text></g>
<g id="w40"><text x="1124" y="1169">再加入几滴淀粉溶液</text></g>
<g id="w41"><text x="1198" y="1169">溶液变蓝色</text></g>
<g id="w42"><text x="930" y="1219">海水资源的开发利用</text></g>
<g id="w43"><text x="1004" y="1186">从海水中提取淡水——海水淡化</text></g>
<g id="w44"><text x="1004" y="1202">海水制盐</text></g>
<g id="w45"><text x="1004" y="1219">从海水中提取镁、钾、溴、碘等化工产品</text></g>
<g id="w46"><text x="1004" y="1236">从海水中获取铀和重水作为核能开发的重要原料</text></g>
<g id="w47"><text x="1004" y="1252">从海水中获取其他物质和能量</text></g>
</g>
<g id="watermark"><text class="wm" x="1008" y="1467">知乎 @知犀思维导图</text></g>
</svg>
